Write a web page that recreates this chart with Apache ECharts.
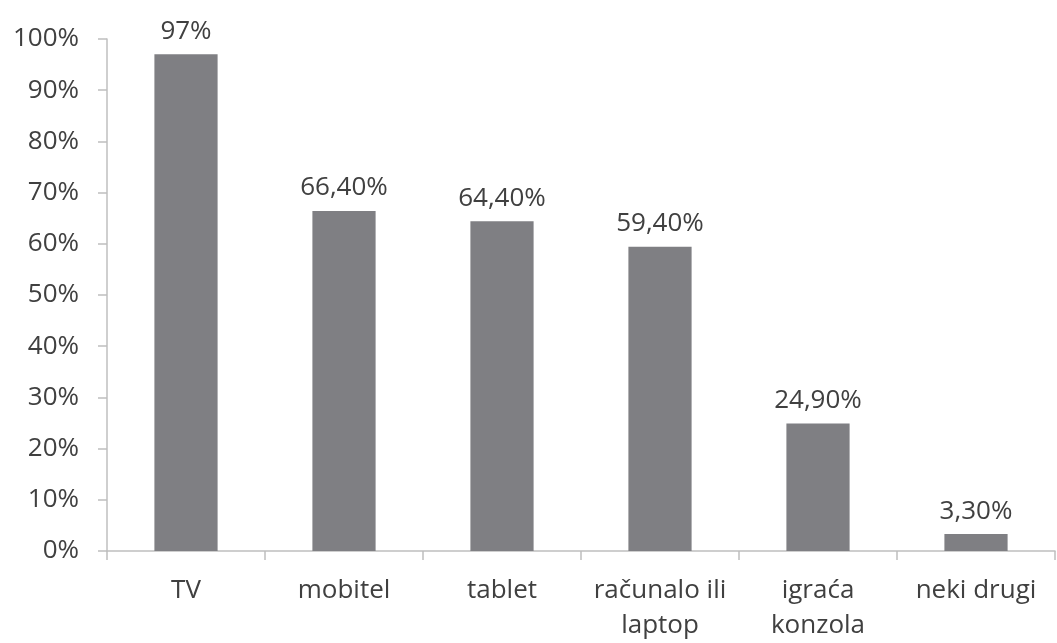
<!DOCTYPE html>
<html><head><meta charset="utf-8">
<script src="https://cdn.jsdelivr.net/npm/echarts@6/dist/echarts.min.js"></script>
<style>html,body{margin:0;padding:0;background:#fff}#c{width:1057px;height:643px}</style>
</head><body><div id="c"></div>
<script>
var categories = ['TV', 'mobitel', 'tablet', 'računalo ili\nlaptop', 'igraća\nkonzola', 'neki drugi'];
var values = [97, 66.4, 64.4, 59.4, 24.9, 3.3];
var valueLabels = ['97%', '66,40%', '64,40%', '59,40%', '24,90%', '3,30%'];
var yTicks = [0, 10, 20, 30, 40, 50, 60, 70, 80, 90, 100];

var font = '"Open Sans", "Liberation Sans", sans-serif';
var chart = echarts.init(document.getElementById('c'));
chart.setOption({
  animation: false,
  grid: { left: 107, right: 2, top: 39, bottom: 90, containLabel: false },
  xAxis: {
    type: 'category',
    data: categories,
    axisLine: { lineStyle: { color: '#bfbfbf', width: 1.5 } },
    axisTick: { show: true, length: 9, lineStyle: { color: '#bfbfbf', width: 1.5 } },
    axisLabel: { interval: 0, color: '#404040', fontSize: 26, fontFamily: font, margin: 22, lineHeight: 35 }
  },
  yAxis: {
    type: 'value',
    min: 0, max: 100, interval: 10,
    axisLine: { show: true, lineStyle: { color: '#bfbfbf', width: 1.5 } },
    axisTick: { show: true, length: 9, lineStyle: { color: '#bfbfbf', width: 1.5 } },
    splitLine: { show: false },
    axisLabel: {
      color: '#404040', fontSize: 26, fontFamily: font, margin: 28,
      formatter: function (v) { return yTicks.indexOf(v) >= 0 ? v + '%' : ''; }
    }
  },
  series: [{
    type: 'bar',
    data: values,
    barWidth: '40%',
    itemStyle: { color: '#7f7f83' },
    label: {
      show: true, position: 'top', distance: 10,
      color: '#404040', fontSize: 26, fontFamily: font,
      formatter: function (p) { return valueLabels[p.dataIndex]; }
    }
  }]
});
</script></body></html>
